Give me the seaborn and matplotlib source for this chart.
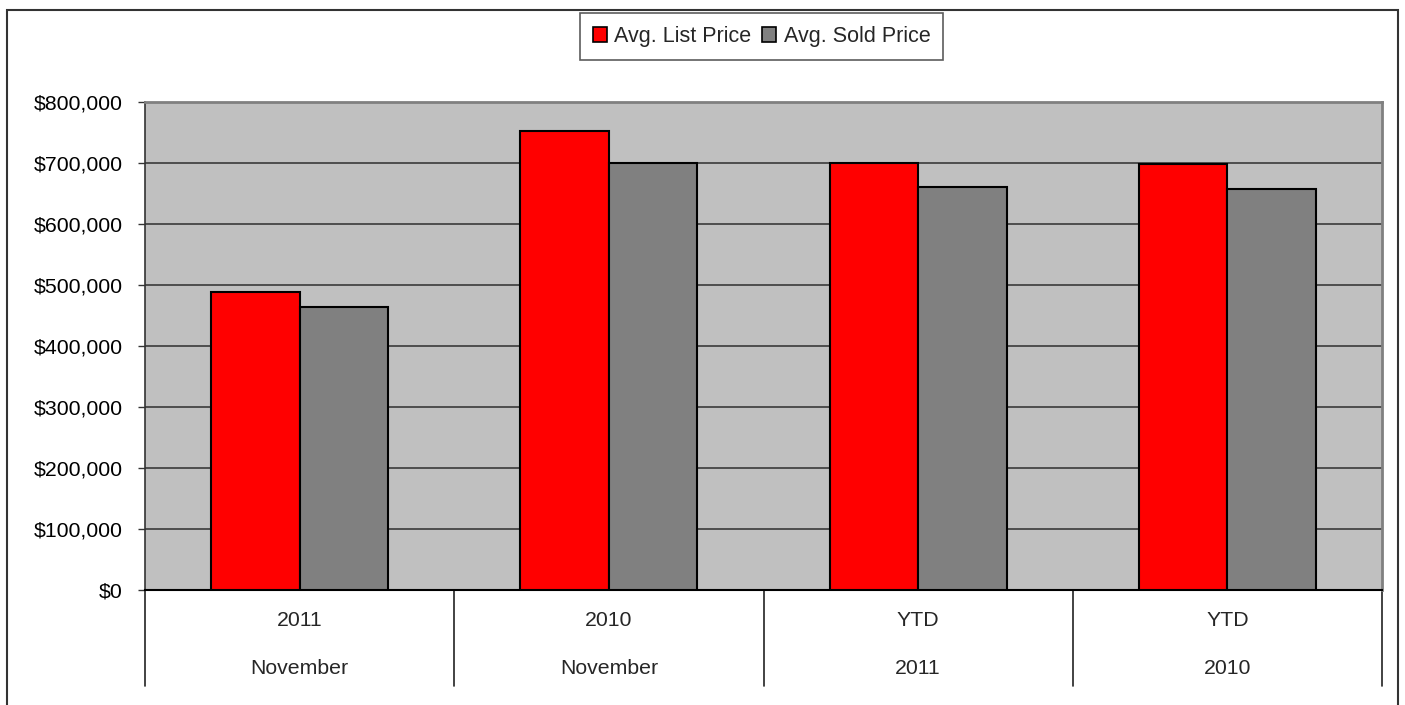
import matplotlib
matplotlib.use("Agg")
import matplotlib.pyplot as plt
import matplotlib.transforms as mtransforms
from matplotlib.patches import Patch, Rectangle
from matplotlib.ticker import FuncFormatter
import seaborn as sns
import pandas as pd

# ---- data ----
level1 = ["2011", "2010", "YTD", "YTD"]
level2 = ["November", "November", "2011", "2010"]
series_names = ["Avg. List Price", "Avg. Sold Price"]
list_price = [489000, 752000, 700000, 699000]
sold_price = [463500, 700000, 660000, 657000]
y_ticks = [0, 100000, 200000, 300000, 400000, 500000, 600000, 700000, 800000]

colors = ["#FF0000", "#808080"]

keys = [f"{a}|{b}" for a, b in zip(level1, level2)]
rows = []
for k, v in zip(keys, list_price):
    rows.append({"cat": k, "series": series_names[0], "value": v})
for k, v in zip(keys, sold_price):
    rows.append({"cat": k, "series": series_names[1], "value": v})
df = pd.DataFrame(rows)

sns.set_theme(style="white")
plt.rcParams["font.family"] = ["Liberation Sans", "DejaVu Sans"]
plt.rcParams["font.size"] = 15

W, H = 1405, 705
fig = plt.figure(figsize=(W / 100, H / 100), dpi=100)
fig.patch.set_facecolor("white")
ax = fig.add_axes([145 / W, (H - 590) / H, (1382 - 145) / W, (590 - 102) / H])
ax.set_facecolor("#C0C0C0")

sns.barplot(data=df, x="cat", y="value", hue="series", order=keys,
            hue_order=series_names, palette=colors, width=0.572, gap=0,
            edgecolor="black", linewidth=1.5, saturation=1, ax=ax,
            legend=False, zorder=3)

ax.set_ylim(0, 800000)
ax.set_xlim(-0.5, len(keys) - 0.5)
ax.set_yticks(y_ticks)
ax.yaxis.set_major_formatter(FuncFormatter(lambda v, p: f"${v:,.0f}"))
ax.grid(axis="y", color="#3a3a3a", linewidth=1.2, zorder=1)
ax.set_axisbelow(True)
ax.set_xlabel("")
ax.set_ylabel("")
ax.set_xticks(range(len(keys)))
ax.set_xticklabels([])
ax.tick_params(axis="x", length=0)
ax.tick_params(axis="y", direction="out", length=5, width=1, color="#333333",
               pad=11, labelsize=15.3, labelcolor="black", left=True)

for s in ["top", "right"]:
    ax.spines[s].set_color("#808080")
    ax.spines[s].set_linewidth(2)
ax.spines["left"].set_color("#333333")
ax.spines["left"].set_linewidth(1.2)
ax.spines["bottom"].set_color("black")
ax.spines["bottom"].set_linewidth(1.5)

# two-level category axis
trans = mtransforms.blended_transform_factory(ax.transData, ax.transAxes)
for i in range(len(keys) + 1):
    x = i - 0.5
    ax.plot([x, x], [0, -0.197], transform=trans, clip_on=False,
            color="#222222", linewidth=1.2)
for i, (a, b) in enumerate(zip(level1, level2)):
    ax.text(i, -0.0616, a, transform=trans, ha="center", va="center", fontsize=15.3)
    ax.text(i, -0.160, b, transform=trans, ha="center", va="center", fontsize=15.3)

# legend
handles = [Patch(facecolor=c, edgecolor="black", linewidth=1.2) for c in colors]
leg = fig.legend(handles, series_names, loc="center",
                 bbox_to_anchor=(761.5 / W, 1 - 36.5 / H), ncol=2,
                 frameon=True, fancybox=False, shadow=False, fontsize=15.5,
                 handlelength=0.65, handleheight=0.65, handletextpad=0.35,
                 columnspacing=0.5, borderpad=0.6, borderaxespad=0)
leg.get_frame().set_edgecolor("#333333")
leg.get_frame().set_linewidth(1.2)

# outer chart border
fig.add_artist(Rectangle((7 / W, -0.02), (1398 - 7) / W, 1 - 10 / H + 0.02,
                         transform=fig.transFigure, fill=False,
                         edgecolor="#333333", linewidth=1.5))

fig.savefig("out.png", dpi=100)
